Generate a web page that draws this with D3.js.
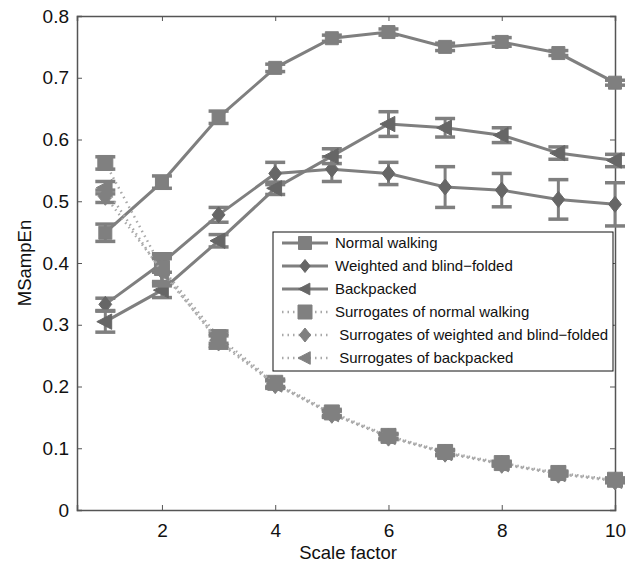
<!DOCTYPE html>
<html>
<head>
<meta charset="utf-8">
<script src="https://cdn.jsdelivr.net/npm/d3@7"></script>
<style>
  body { margin: 0; background: #fff; }
  text { font-family: "Liberation Sans", Arial, sans-serif; fill: #111; }
</style>
</head>
<body>
<div id="vis"></div>
<script>
// data
let scales = [1, 2, 3, 4, 5, 6, 7, 8, 9, 10];
let normal = [0.449, 0.531, 0.636, 0.716, 0.764, 0.774, 0.750, 0.758, 0.740, 0.692];
let normalErr = [0.014, 0.010, 0.010, 0.006, 0.005, 0.005, 0.006, 0.007, 0.004, 0.004];
let weighted = [0.333, 0.400, 0.478, 0.545, 0.552, 0.545, 0.523, 0.518, 0.503, 0.495];
let weightedErr = [0.010, 0.015, 0.012, 0.018, 0.020, 0.018, 0.033, 0.027, 0.032, 0.035];
let backpacked = [0.305, 0.356, 0.436, 0.521, 0.573, 0.625, 0.619, 0.607, 0.578, 0.566];
let backpackedErr = [0.017, 0.012, 0.010, 0.010, 0.012, 0.020, 0.015, 0.012, 0.010, 0.010];
let surrNormal = [0.562, 0.392, 0.280, 0.206, 0.158, 0.120, 0.094, 0.076, 0.060, 0.049];
let surrWeighted = [0.508, 0.388, 0.272, 0.203, 0.155, 0.118, 0.092, 0.074, 0.058, 0.047];
let surrBackpacked = [0.522, 0.385, 0.275, 0.204, 0.156, 0.119, 0.093, 0.075, 0.059, 0.048];
let surrErr = [0.010, 0.022, 0.010, 0.006, 0.005, 0.004, 0.004, 0.003, 0.003, 0.003];
let xTicks = [2, 4, 6, 8, 10];
let yTicks = [0, 0.1, 0.2, 0.3, 0.4, 0.5, 0.6, 0.7, 0.8];
let legendLabels = ["Normal walking", "Weighted and blind\u2212folded", "Backpacked",
  "Surrogates of normal walking", " Surrogates of weighted and blind\u2212folded", " Surrogates of backpacked"];

let margin = { top: 16, left: 77, right: 21, bottom: 58 },
  width = 636 - margin.left - margin.right,
  height = 568 - margin.top - margin.bottom;

let svg = d3.select('#vis')
  .append('svg')
  .attr('width', 636)
  .attr('height', 568);

let g = svg.append('g')
  .attr('transform', 'translate(' + margin.left + ',' + margin.top + ')');

let xScale = d3.scaleLinear().domain([0.5, 10]).range([0, width]);
let yScale = d3.scaleLinear().domain([0, 0.8]).range([height, 0]);

let axisColor = '#555';

// axes, ticks pointing inward like matlab
let xAxis = g.append('g')
  .attr('transform', 'translate(0,' + height + ')')
  .call(d3.axisBottom(xScale).tickValues(xTicks).tickSize(-5).tickPadding(14).tickFormat(d3.format('d')));
let xTop = g.append('g')
  .call(d3.axisTop(xScale).tickValues(xTicks).tickSize(-5).tickFormat(''));
let yAxis = g.append('g')
  .call(d3.axisLeft(yScale).tickValues(yTicks).tickSize(-5).tickPadding(8).tickFormat(d => d === 0 ? '0' : d3.format('.1f')(d)));
let yRight = g.append('g')
  .attr('transform', 'translate(' + width + ',0)')
  .call(d3.axisRight(yScale).tickValues(yTicks).tickSize(-5).tickFormat(''));

[xAxis, xTop, yAxis, yRight].forEach(function(a) {
  a.select('.domain').attr('stroke', axisColor).attr('stroke-width', 1.5);
  a.selectAll('.tick line').attr('stroke', axisColor).attr('stroke-width', 1);
  a.selectAll('.tick text').style('font-size', '19px').attr('fill', '#111');
});

// axis labels
svg.append('text')
  .attr('x', 348)
  .attr('y', 559)
  .attr('text-anchor', 'middle')
  .style('font-size', '18.5px')
  .text('Scale factor');

svg.append('text')
  .attr('transform', 'translate(31,' + (margin.top + height / 2) + ') rotate(-90)')
  .attr('text-anchor', 'middle')
  .style('font-size', '18.5px')
  .text('MSampEn');

let lineColor = '#7f7f7f';
let markerDark = '#666';
let surrLine = '#a8a8a8';
let surrMarker = '#808080';

function markerPath(type, s) {
  if (type === 'square') return d3.symbol().type(d3.symbolSquare).size(s * s * 4)();
  if (type === 'diamond') return 'M0,' + (-s) + 'L' + (s * 0.8) + ',0L0,' + s + 'L' + (-s * 0.8) + ',0Z';
  return 'M' + (-s) + ',0L' + (s * 0.75) + ',' + (-s * 0.9) + 'L' + (s * 0.75) + ',' + (s * 0.9) + 'Z';
}

let series = [
  { vals: normal, err: normalErr, marker: 'square', size: 6.5, fill: lineColor, dotted: false },
  { vals: weighted, err: weightedErr, marker: 'diamond', size: 8, fill: markerDark, dotted: false },
  { vals: backpacked, err: backpackedErr, marker: 'triangle', size: 8.5, fill: markerDark, dotted: false },
  { vals: surrNormal, err: surrErr, marker: 'square', size: 7.5, fill: surrMarker, dotted: true },
  { vals: surrWeighted, err: surrErr, marker: 'diamond', size: 9, fill: surrMarker, dotted: true },
  { vals: surrBackpacked, err: surrErr, marker: 'triangle', size: 9, fill: surrMarker, dotted: true }
];

let line = d3.line()
  .x(d => xScale(d.x))
  .y(d => yScale(d.y));

series.forEach(function(s) {
  let pts = scales.map(function(x, i) { return { x: x, y: s.vals[i], e: s.err[i] }; });
  let sg = g.append('g');

  sg.append('path')
    .datum(pts)
    .attr('d', line)
    .attr('fill', 'none')
    .attr('stroke', s.dotted ? surrLine : lineColor)
    .attr('stroke-width', s.dotted ? 2.5 : 3)
    .attr('stroke-dasharray', s.dotted ? '1.5,4' : null);

  // error bars
  let eb = sg.selectAll('.eb')
    .data(pts)
    .enter()
    .append('g');
  eb.append('line')
    .attr('x1', d => xScale(d.x)).attr('x2', d => xScale(d.x))
    .attr('y1', d => yScale(d.y - d.e)).attr('y2', d => yScale(d.y + d.e))
    .attr('stroke', s.dotted ? surrMarker : lineColor).attr('stroke-width', 3);
  eb.append('line')
    .attr('x1', d => xScale(d.x) - 10).attr('x2', d => xScale(d.x) + 10)
    .attr('y1', d => yScale(d.y + d.e)).attr('y2', d => yScale(d.y + d.e))
    .attr('stroke', s.dotted ? surrMarker : lineColor).attr('stroke-width', 3.5);
  eb.append('line')
    .attr('x1', d => xScale(d.x) - 10).attr('x2', d => xScale(d.x) + 10)
    .attr('y1', d => yScale(d.y - d.e)).attr('y2', d => yScale(d.y - d.e))
    .attr('stroke', s.dotted ? surrMarker : lineColor).attr('stroke-width', 3.5);

  // markers
  sg.selectAll('.mk')
    .data(pts)
    .enter()
    .append('path')
    .attr('transform', d => 'translate(' + xScale(d.x) + ',' + yScale(d.y) + ')')
    .attr('d', markerPath(s.marker, s.size))
    .attr('fill', s.fill)
    .attr('stroke', s.fill)
    .attr('stroke-width', 1);
});

// legend
let lg = svg.append('g').attr('transform', 'translate(273,232)');
lg.append('rect')
  .attr('width', 340).attr('height', 139)
  .attr('fill', '#fff').attr('stroke', '#111').attr('stroke-width', 1);

legendLabels.forEach(function(label, i) {
  let s = series[i];
  let yy = 11 + i * 23;
  let row = lg.append('g').attr('transform', 'translate(0,' + yy + ')');
  row.append('line')
    .attr('x1', 9).attr('x2', 55).attr('y1', 0).attr('y2', 0)
    .attr('stroke', s.dotted ? surrLine : lineColor)
    .attr('stroke-width', s.dotted ? 2.5 : 3)
    .attr('stroke-dasharray', s.dotted ? '1.5,4' : null);
  row.append('path')
    .attr('transform', 'translate(32,0)')
    .attr('d', markerPath(s.marker, s.dotted ? 7 : 6.5))
    .attr('fill', s.fill).attr('stroke', s.fill);
  row.append('text')
    .attr('x', 62).attr('y', 5)
    .attr('xml:space', 'preserve')
    .style('white-space', 'pre')
    .style('font-size', '15px')
    .text(label);
});
</script>
</body>
</html>
